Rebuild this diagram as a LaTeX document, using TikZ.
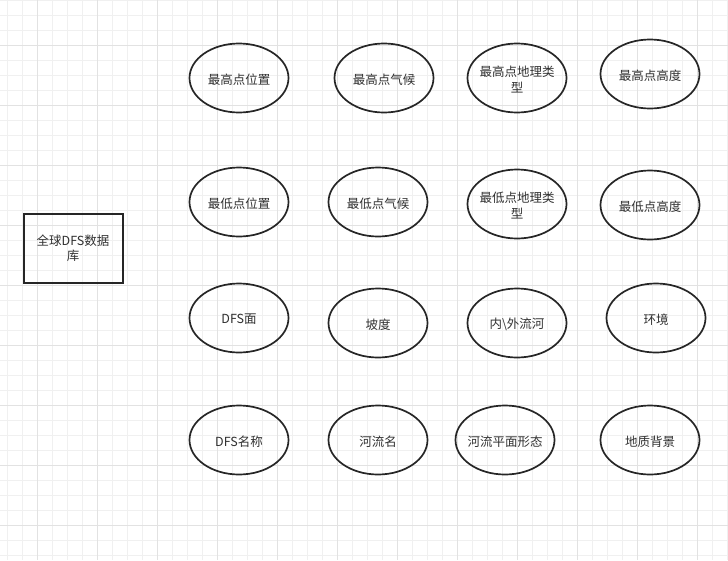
\documentclass[tikz,border=0pt]{standalone}
\usepackage{fontspec}
\setmainfont{Noto Sans CJK SC}
\usetikzlibrary{shapes.geometric}
\definecolor{gridminor}{HTML}{F0F0F0}
\definecolor{gridmajor}{HTML}{E2E2E2}
\definecolor{edgecol}{HTML}{262626}
\definecolor{txtcol}{HTML}{303030}
\begin{document}
\begin{tikzpicture}[x=1pt,y=-1pt,
  oval/.style={ellipse,draw=edgecol,line width=1.7pt,minimum width=99pt,minimum height=69pt,inner sep=0pt},
  lbl/.style={inner sep=0pt,yshift=-1.5pt,text=txtcol,font=\fontsize{12.5}{15.5}\selectfont,align=center},
  box/.style={rectangle,draw=edgecol,line width=2pt,minimum width=99pt,minimum height=69pt,inner sep=0pt,
    text=txtcol,font=\fontsize{12.5}{15.5}\selectfont,align=center}]
\useasboundingbox (0,0) rectangle (728,560);
\fill[white] (0,0) rectangle (728,560);
% grid
\foreach \i in {0,...,48} \draw[gridminor,line width=0.8pt] (7+15*\i,0) -- (7+15*\i,560);
\foreach \j in {0,...,37} \draw[gridminor,line width=0.8pt] (0,15*\j) -- (728,15*\j);
\foreach \i in {0,...,11} \draw[gridmajor,line width=0.8pt] (37+60*\i,0) -- (37+60*\i,560);
\foreach \j in {0,...,8} \draw[gridmajor,line width=0.8pt] (0,45+60*\j) -- (728,45+60*\j);
% main box
\node[box] (db) at (73,248) {全球DFS数据\\库};
% row 1
\node[oval] (gp) at (239,78) {}; \node[lbl] (gp-t) at (gp) {最高点位置};
\node[oval] (gc) at (384,78) {}; \node[lbl] (gc-t) at (gc) {最高点气候};
\node[oval] (gt) at (517,78) {}; \node[lbl] (gt-t) at (gt) {最高点地理类\\型};
\node[oval] (gh) at (650,74) {}; \node[lbl] (gh-t) at (gh) {最高点高度};
% row 2
\node[oval] (dp) at (239,202) {}; \node[lbl] (dp-t) at (dp) {最低点位置};
\node[oval] (dc) at (378,202) {}; \node[lbl] (dc-t) at (dc) {最低点气候};
\node[oval] (dt) at (517,204) {}; \node[lbl] (dt-t) at (dt) {最低点地理类\\型};
\node[oval] (dh) at (650,205) {}; \node[lbl] (dh-t) at (dh) {最低点高度};
% row 3
\node[oval] (face) at (239,318) {}; \node[lbl] (face-t) at (face) {DFS面};
\node[oval] (slope) at (378,323) {}; \node[lbl] (slope-t) at (slope) {坡度};
\node[oval] (river) at (517,323) {}; \node[lbl] (river-t) at (river) {内\textbackslash 外流河};
\node[oval] (env) at (656,318) {}; \node[lbl] (env-t) at (env) {环境};
% row 4
\node[oval] (name) at (239,440) {}; \node[lbl] (name-t) at (name) {DFS名称};
\node[oval] (rname) at (378,440) {}; \node[lbl] (rname-t) at (rname) {河流名};
\node[oval] (rform) at (505,440) {}; \node[lbl] (rform-t) at (rform) {河流平面形态};
\node[oval] (geo) at (650,440) {}; \node[lbl] (geo-t) at (geo) {地质背景};
\end{tikzpicture}
\end{document}
